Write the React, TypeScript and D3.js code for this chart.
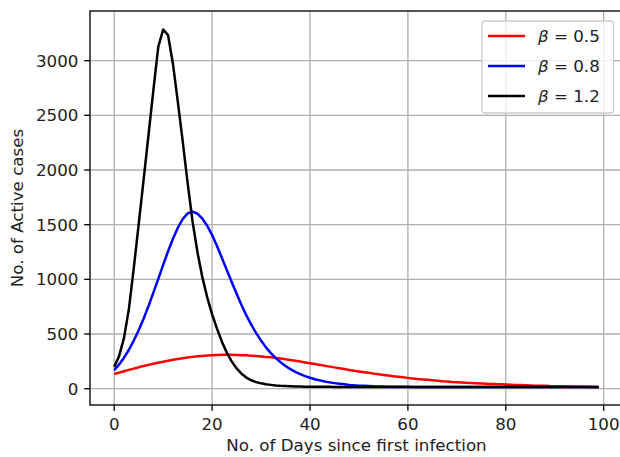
import React from 'react';
import * as d3 from 'd3';

// days since first infection
const days = d3.range(0, 100);

// active cases per beta
const beta05 = [
  134, 147, 160, 172, 184, 196, 207, 218, 228, 238,
  247, 256, 264, 272, 279, 285, 291, 296, 300, 304,
  307, 309, 310, 311, 310, 309, 307, 305, 302, 299,
  295, 291, 287, 282, 277, 270, 263, 256, 248, 240,
  233, 225, 218, 210, 202, 195, 187, 180, 172, 165,
  158, 151, 145, 138, 132, 126, 120, 114, 109, 104,
  99, 94, 89, 85, 81, 77, 73, 69, 66, 62,
  60, 57, 54, 52, 50, 48, 46, 44, 42, 41,
  39, 37, 35, 33, 31, 30, 28, 27, 26, 24,
  23, 22, 21, 20, 19, 18, 17, 16, 15, 14,
];

const beta08 = [
  170, 222, 284, 356, 440, 535, 640, 755, 878, 1005,
  1133, 1257, 1372, 1472, 1552, 1603, 1620, 1600, 1555, 1490,
  1405, 1305, 1195, 1085, 975, 868, 765, 670, 585, 508,
  440, 378, 325, 280, 242, 208, 179, 154, 133, 115,
  100, 87, 76, 66, 58, 51, 45, 40, 35, 31,
  28, 26, 24, 22, 21, 20, 19, 18, 18, 17,
  17, 16, 16, 16, 16, 16, 16, 16, 16, 16,
  15, 15, 15, 15, 15, 15, 15, 15, 15, 15,
  15, 15, 15, 15, 15, 15, 15, 15, 15, 15,
  15, 15, 15, 15, 15, 15, 15, 15, 15, 15,
];

const beta12 = [
  200, 300, 465, 730, 1105, 1505, 1910, 2320, 2730, 3126,
  3285, 3233, 2970, 2620, 2260, 1880, 1530, 1250, 1020, 835,
  680, 550, 430, 330, 250, 185, 137, 102, 77, 60,
  49, 41, 35, 30, 27, 25, 23, 21, 20, 19,
  18, 18, 17, 17, 17, 16, 16, 16, 16, 16,
  16, 16, 16, 16, 16, 16, 16, 16, 16, 16,
  16, 16, 16, 16, 16, 16, 16, 16, 16, 16,
  15, 15, 15, 15, 15, 15, 15, 15, 15, 15,
  15, 15, 15, 15, 15, 15, 15, 15, 15, 15,
  15, 15, 15, 15, 15, 15, 15, 15, 15, 15,
];

const seriesNames = ['0.5', '0.8', '1.2'];
const seriesColors = ['red', 'blue', 'black'];
const seriesValues = [beta05, beta08, beta12];

const xTicks = [0, 20, 40, 60, 80, 100];
const yTicks = [0, 500, 1000, 1500, 2000, 2500, 3000];

const W = 620;
const H = 457;
const margin = { top: 11, right: -3, bottom: 52, left: 90 };
const FONT = 'DejaVu Sans';
const FS = 16.7;
const TXT = '#222';

export default function App() {
  const x = d3
    .scaleLinear()
    .domain([-4.95, 103.95])
    .range([margin.left, W - margin.right]);
  const y = d3
    .scaleLinear()
    .domain([-149, 3454])
    .range([H - margin.bottom, margin.top]);

  const line = d3
    .line<number>()
    .x((d, i) => x(days[i]))
    .y((d) => y(d));

  const x0 = margin.left;
  const x1 = W - margin.right;
  const y0 = H - margin.bottom;
  const y1 = margin.top;

  // legend placement (upper right)
  const lg = { x: 482, y: 21, w: 131.5, h: 92 };
  const rowY = [36, 66, 96];

  return (
    <svg
      width={W}
      height={H}
      style={{ position: 'absolute', left: 0, top: 0, background: '#fff' }}
      fontFamily={FONT}
    >
      <defs>
        <clipPath id="plot">
          <rect x={x0} y={y1} width={x1 - x0} height={y0 - y1} />
        </clipPath>
      </defs>

      {/* grid */}
      <g stroke="#b0b0b0" strokeWidth={1.33}>
        {xTicks.map((t) => (
          <line key={'gx' + t} x1={x(t)} x2={x(t)} y1={y0} y2={y1} />
        ))}
        {yTicks.map((t) => (
          <line key={'gy' + t} x1={x0} x2={x1} y1={y(t)} y2={y(t)} />
        ))}
      </g>

      {/* series */}
      <g clipPath="url(#plot)" fill="none" strokeWidth={2.5} strokeLinejoin="round">
        {seriesValues.map((vals, i) => (
          <path key={i} d={line(vals) || ''} stroke={seriesColors[i]} />
        ))}
      </g>

      {/* spines */}
      <rect
        x={x0}
        y={y1}
        width={x1 - x0}
        height={y0 - y1}
        fill="none"
        stroke="#000"
        strokeWidth={1.33}
      />

      {/* x axis */}
      <g>
        {xTicks.map((t) => (
          <g key={'xt' + t}>
            <line x1={x(t)} x2={x(t)} y1={y0} y2={y0 + 5.8} stroke="#000" strokeWidth={1.33} />
            <text x={x(t)} y={430} textAnchor="middle" fontSize={FS} fill={TXT}>
              {t}
            </text>
          </g>
        ))}
        <text x={(x0 + x1) / 2} y={451} textAnchor="middle" fontSize={FS} fill={TXT}>
          No. of Days since first infection
        </text>
      </g>

      {/* y axis */}
      <g>
        {yTicks.map((t) => (
          <g key={'yt' + t}>
            <line x1={x0 - 5.8} x2={x0} y1={y(t)} y2={y(t)} stroke="#000" strokeWidth={1.33} />
            <text
              x={x0 - 11.6}
              y={y(t)}
              dy="0.36em"
              textAnchor="end"
              fontSize={FS}
              fill={TXT}
            >
              {t}
            </text>
          </g>
        ))}
        <text
          transform={`translate(23,${(y0 + y1) / 2}) rotate(-90)`}
          textAnchor="middle"
          fontSize={FS}
          fill={TXT}
        >
          No. of Active cases
        </text>
      </g>

      {/* legend */}
      <g>
        <rect
          x={lg.x}
          y={lg.y}
          width={lg.w}
          height={lg.h}
          rx={3}
          fill="#fff"
          fillOpacity={0.8}
          stroke="#cccccc"
          strokeWidth={1.33}
        />
        {seriesNames.map((name, i) => (
          <g key={'lg' + i}>
            <line
              x1={488}
              x2={525}
              y1={rowY[i]}
              y2={rowY[i]}
              stroke={seriesColors[i]}
              strokeWidth={2.5}
            />
            <text x={538} y={rowY[i]} dy="0.36em" fontSize={FS} fill={TXT}>
              <tspan fontStyle="italic">β</tspan>
              <tspan> = {name}</tspan>
            </text>
          </g>
        ))}
      </g>
    </svg>
  );
}
